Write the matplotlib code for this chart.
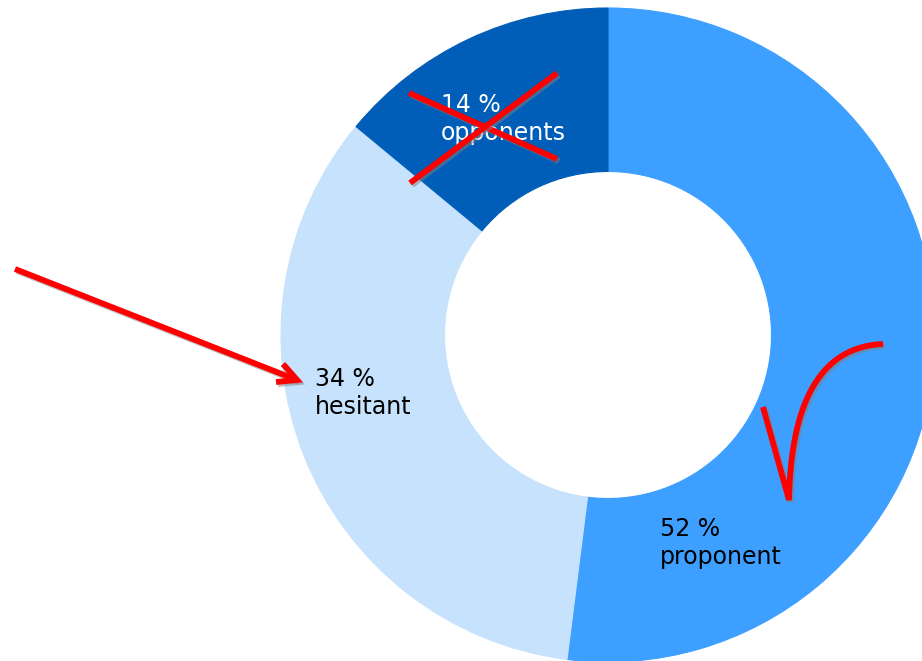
import matplotlib
matplotlib.use("Agg")
import matplotlib.pyplot as plt
import matplotlib.patheffects as pe
import numpy as np

# Data
categories = ["proponent", "hesitant", "opponents"]
values = [52, 34, 14]
colors = ["#3D9FFF", "#C6E2FC", "#005EB8"]
text_colors = ["black", "black", "white"]

W, H = 922, 661
fig = plt.figure(figsize=(W / 100, H / 100), dpi=100)
ax = fig.add_axes([0, 0, 1, 1])

def P(x, y):
    return (x, H - y)

cx, cy = P(608, 335)
R = 327
wedges, _ = ax.pie(values, colors=colors, startangle=90, counterclock=False,
                   radius=R, center=(cx, cy),
                   wedgeprops=dict(width=R * 0.5, linewidth=0.8))
for w, c in zip(wedges, colors):
    w.set_edgecolor(c)

ax.set_xlim(0, W)
ax.set_ylim(0, H)
ax.set_aspect("auto")
ax.axis("off")

# Labels (left x, baseline of first line)
label_pos = {"proponent": (660, 536), "hesitant": (315, 386), "opponents": (441, 112)}
for cat, v, tc in zip(categories, values, text_colors):
    x, yb = label_pos[cat]
    ax.text(*P(x, yb), f"{v} %", color=tc, fontsize=17, ha="left", va="baseline",
            family="DejaVu Sans", zorder=3)
    ax.text(*P(x, yb + 28), cat, color=tc, fontsize=17, ha="left", va="baseline",
            family="DejaVu Sans", zorder=3)

# Hand-drawn red annotations
fx = [pe.SimpleLineShadow(offset=(1.5, -1.5), shadow_color="gray", alpha=0.5), pe.Normal()]
red = "#FF0000"
lw = 4.2

def seg(pts):
    xs, ys = zip(*[P(*p) for p in pts])
    ax.plot(xs, ys, color=red, lw=lw, solid_capstyle="butt",
            solid_joinstyle="miter", path_effects=fx, zorder=5)

# Cross over opponents
seg([(409, 93), (557, 159)])
seg([(410, 183), (557, 73)])

# Arrow to hesitant
seg([(15, 269), (297, 380)])
seg([(283, 364), (297, 380), (276, 382)])

# Check mark near proponent
t = np.linspace(0, 1, 60)
p0, p1, p2 = np.array([789, 500]), np.array([792, 348]), np.array([883, 344])
curve = ((1 - t)[:, None] ** 2) * p0 + (2 * (1 - t) * t)[:, None] * p1 + (t[:, None] ** 2) * p2
seg([(763, 407)] + [tuple(p) for p in curve])

fig.savefig("out.png", dpi=100)
